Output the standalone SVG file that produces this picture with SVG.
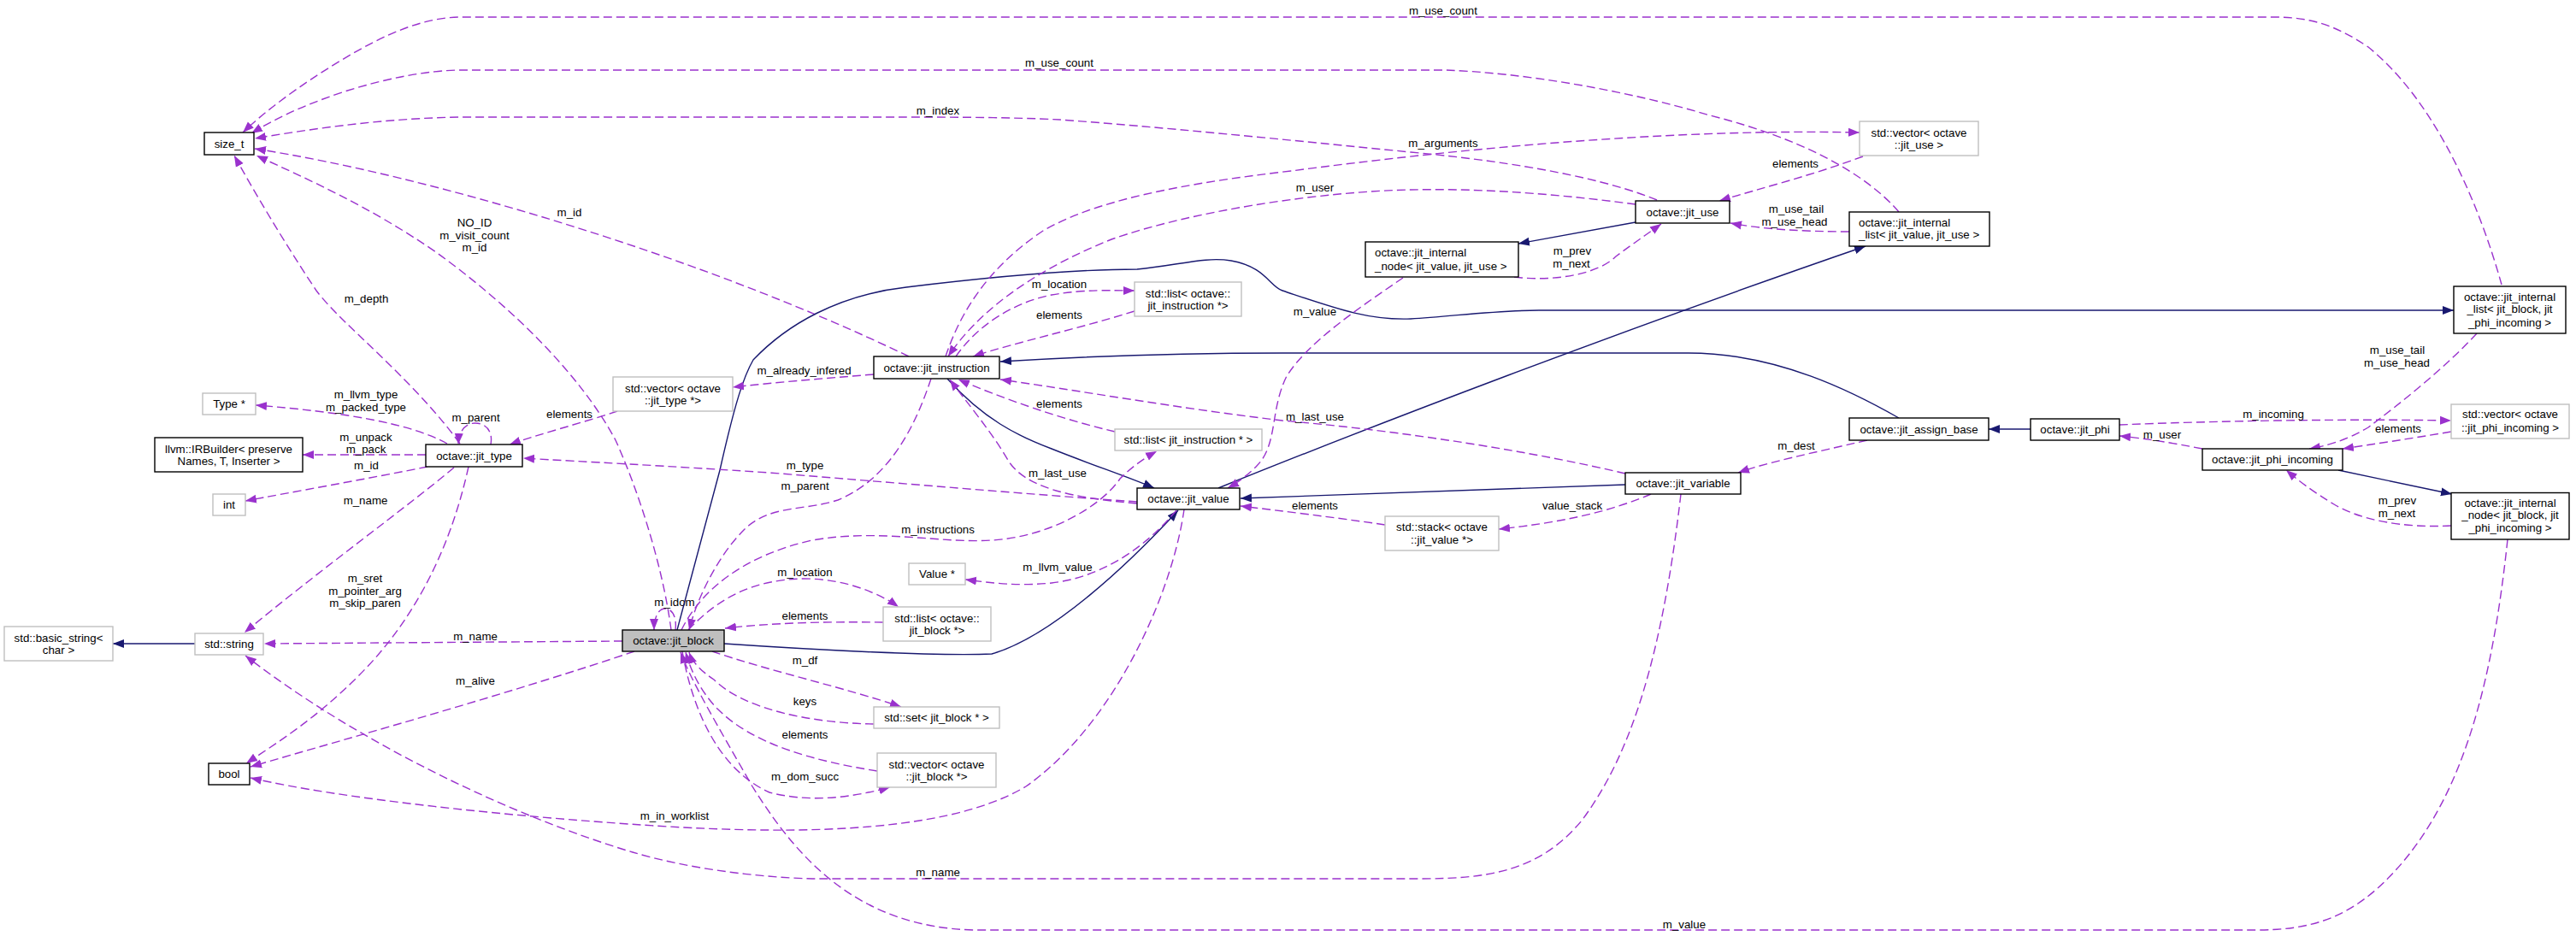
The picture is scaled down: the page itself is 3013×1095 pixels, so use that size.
<svg xmlns="http://www.w3.org/2000/svg" width="3013" height="1095" viewBox="0 0 3013 1095">
<style>
text{font-family:"Liberation Sans",Arial,sans-serif;font-size:13.3px;fill:#000;text-anchor:middle}
.l{text-anchor:start}
.nb{fill:#fff;stroke:#000;stroke-width:1.4}
.ng{fill:#fff;stroke:#bfbfbf;stroke-width:1.4}
.nf{fill:#bfbfbf;stroke:#000;stroke-width:1.4}
.u{fill:none;stroke:#9a32cd;stroke-width:1.4;stroke-dasharray:10,5;marker-end:url(#ap)}
.i{fill:none;stroke:#191970;stroke-width:1.4;marker-end:url(#ab)}
.un{fill:none;stroke:#9a32cd;stroke-width:1.4;stroke-dasharray:10,5}
</style>
<defs>
<marker id="ap" markerUnits="userSpaceOnUse" markerWidth="14" markerHeight="12" refX="13" refY="5" orient="auto" viewBox="0 0 14 10"><path d="M0,0 L13,5 L0,10 z" fill="#9a32cd"/></marker>
<marker id="ab" markerUnits="userSpaceOnUse" markerWidth="14" markerHeight="12" refX="13" refY="5" orient="auto" viewBox="0 0 14 10"><path d="M0,0 L13,5 L0,10 z" fill="#191970"/></marker>
</defs>
<rect width="3013" height="1095" fill="#fff"/>
<g id="edges">
<g><path class="u" d="M2926,333 C2900,240 2850,120 2770,55 C2730,28 2700,20 2660,20 L540,20 C495,20 450,40 400,70 C350,100 310,130 284,155"/><text x="1688" y="16.5">m_use_count</text></g>
<g><path class="u" d="M2221,248 C2180,200 2100,160 2000,135 C1900,105 1780,85 1690,82 L540,82 C500,82 450,92 400,108 C350,125 320,140 294,156"/><text x="1239" y="78">m_use_count</text></g>
<g><path class="u" d="M1938,234 C1880,210 1780,190 1650,178 C1500,163 1350,148 1240,140 C1180,137 1100,137 1050,137 L540,137 C460,138 380,148 298,162"/><text x="1097" y="133.5">m_index</text></g>
<g><path class="u" d="M1063,417 C820,300 500,205 298,174"/><text x="666" y="252.5">m_id</text></g>
<g><path class="u" d="M785,737 C775,660 745,570 720,515 C680,440 600,360 510,295 C430,240 360,210 300,182"/><text x="555" y="264.5">NO_ID</text><text x="555" y="279.5">m_visit_count</text><text x="555" y="293.5">m_id</text></g>
<g><path class="u" d="M538,519 C480,440 400,380 370,340 C330,280 295,220 274,182"/><text x="428.5" y="353.5">m_depth</text></g>
<g><path class="u" d="M523,519 C480,495 400,482 299,474"/><text x="428" y="465.5">m_llvm_type</text><text x="428" y="480.5">m_packed_type</text></g>
<g><path class="u" d="M574,520 C577,503 567,495 556,495 C545,495 537,503 536,520"/><text x="556.5" y="492.5">m_parent</text></g>
<g><path class="u" d="M722,481 C680,495 630,508 596,520"/><text x="666" y="488.5">elements</text></g>
<g><path class="u" d="M498,532 L354,532"/><text x="428" y="515.5">m_unpack</text><text x="428" y="529.5">m_pack</text></g>
<g><path class="u" d="M500,546 C430,560 340,576 287,586"/><text x="428.5" y="549">m_id</text></g>
<g><path class="u" d="M531,547 C480,590 370,670 286,740"/><text x="427.5" y="589.5">m_name</text></g>
<g><path class="u" d="M548,546 C525,650 480,730 420,790 C370,840 330,865 288,893"/><text x="427" y="680.5">m_sret</text><text x="427" y="695.5">m_pointer_arg</text><text x="427" y="710">m_skip_paren</text></g>
<g><path class="i" d="M228,753 L132,753"/></g>
<g><path class="u" d="M728,750 L309,753"/><text x="556" y="749">m_name</text></g>
<g><path class="u" d="M742,762 C600,810 420,860 293,897"/><text x="556" y="800.5">m_alive</text></g>
<g><path class="u" d="M1385,596 C1370,700 1300,850 1200,920 C1100,980 900,975 750,965 C600,955 400,935 293,910"/><text x="789" y="959">m_in_worklist</text></g>
<g><path class="u" d="M1966,578 C1945,760 1910,880 1850,960 C1800,1020 1740,1028 1660,1028 L950,1028 C880,1026 800,1015 740,997 C600,955 420,870 287,767"/><text x="1097" y="1024.5">m_name</text></g>
<g><path class="u" d="M2933,631 C2915,800 2880,950 2780,1040 C2740,1075 2700,1088 2640,1088 L1140,1088 C1000,1085 930,1000 880,920 C840,850 810,800 796,763"/><text x="1970" y="1086">m_value</text></g>
<g><path class="u" d="M790,737 C792,720 785,712 778,712 C770,712 765,722 765,737"/><text x="789" y="708.5">m_idom</text></g>
<g><path class="i" d="M792,737 L842,550 C860,470 870,440 881,421 C920,380 980,345 1060,336 C1150,325 1250,315 1330,315 C1380,310 1410,300 1440,305 C1480,312 1485,335 1500,340 C1560,360 1600,375 1650,373 C1700,370 1750,363 1800,363 L2870,363"/></g>
<g><path class="i" d="M847,753 C950,760 1100,768 1160,765 C1230,745 1320,660 1378,597"/></g>
<g><path class="i" d="M1108,443 C1150,490 1190,510 1230,525 C1280,545 1320,558 1350,571"/></g>
<g><path class="i" d="M2221,489 C2170,460 2080,413 1975,413 L1500,413 C1350,413 1250,418 1170,423"/></g>
<g><path class="i" d="M1901,567 L1451,583"/></g>
<g><path class="i" d="M1425,571 C1600,500 1900,385 2182,288"/></g>
<g><path class="i" d="M1913,260 L1776,285"/></g>
<g><path class="i" d="M2375,502 L2326,502"/></g>
<g><path class="i" d="M2735,550 L2868,578"/></g>
<g><path class="u" d="M1771,324 C1820,330 1870,320 1890,300 C1910,285 1925,275 1943,262"/><text x="1839" y="298">m_prev</text><text x="1838" y="312.5">m_next</text></g>
<g><path class="u" d="M2163,271 C2110,271 2060,268 2024,261"/><text x="2101" y="249">m_use_tail</text><text x="2099" y="263.5">m_use_head</text></g>
<g><path class="u" d="M2179,183 C2120,205 2060,220 2011,235"/><text x="2100" y="196">elements</text></g>
<g><path class="u" d="M1106,417 C1125,360 1160,310 1220,270 C1280,235 1380,215 1510,200 C1700,175 1950,150 2175,155"/><text x="1688" y="171.5">m_arguments</text></g>
<g><path class="u" d="M1913,239 C1830,228 1740,220 1650,222 C1550,224 1400,245 1300,280 C1200,320 1140,370 1109,417"/><text x="1538" y="224">m_user</text></g>
<g><path class="u" d="M1641,325 C1590,360 1530,400 1505,440 C1485,480 1495,520 1470,545 C1460,555 1450,563 1436,571"/><text x="1538" y="368.5">m_value</text></g>
<g><path class="u" d="M1118,417 C1140,385 1180,355 1230,345 C1270,338 1300,340 1327,340"/><text x="1239" y="336.5">m_location</text></g>
<g><path class="u" d="M1327,364 C1260,385 1190,400 1138,417"/><text x="1239" y="373">elements</text></g>
<g><path class="u" d="M1304,505 C1240,490 1170,465 1121,444"/><text x="1239" y="477">elements</text></g>
<g><path class="u" d="M1901,554 C1800,530 1650,505 1500,492 C1380,478 1250,455 1170,444"/><text x="1538" y="492">m_last_use</text></g>
<g><path class="u" d="M1330,589 C1250,582 1200,570 1180,540 C1160,505 1130,470 1111,444"/><text x="1237" y="557.5">m_last_use</text></g>
<g><path class="u" d="M1089,443 C1070,500 1040,560 980,585 C940,598 900,590 870,620 C840,650 815,700 806,737"/><text x="941.5" y="573">m_parent</text></g>
<g><path class="u" d="M1330,587 C1200,578 1050,565 900,553 C780,545 680,540 612,536"/><text x="941.5" y="549">m_type</text></g>
<g><path class="u" d="M1022,438 C960,443 900,448 857,453"/><text x="940.5" y="437.5">m_already_infered</text></g>
<g><path class="u" d="M797,737 C820,690 870,650 950,632 C1030,618 1100,636 1160,632 C1230,628 1290,590 1310,560 C1325,545 1340,535 1353,528"/><text x="1097" y="623.5">m_instructions</text></g>
<g><path class="u" d="M1376,597 C1340,640 1290,675 1230,682 C1190,686 1160,682 1129,678"/><text x="1237" y="668">m_llvm_value</text></g>
<g><path class="u" d="M805,737 C840,700 880,678 940,677 C990,677 1030,695 1051,710"/><text x="941.5" y="673.5">m_location</text></g>
<g><path class="u" d="M1033,728 C960,727 900,729 848,735"/><text x="941.5" y="724.5">elements</text></g>
<g><path class="u" d="M833,762 C900,785 990,805 1054,827"/><text x="941.5" y="777">m_df</text></g>
<g><path class="u" d="M1022,847 C950,846 870,830 835,795 C820,785 810,775 806,763"/><text x="941.5" y="824.5">keys</text></g>
<g><path class="u" d="M1026,902 C950,890 880,870 840,830 C820,810 808,785 802,763"/><text x="941.5" y="863.5">elements</text></g>
<g><path class="u" d="M798,762 C810,830 840,900 900,927 C950,940 1000,932 1041,921"/><text x="941.5" y="912.5">m_dom_succ</text></g>
<g><path class="u" d="M1620,614 C1560,605 1500,598 1451,592"/><text x="1538" y="596">elements</text></g>
<g><path class="u" d="M1931,578 C1880,600 1820,612 1753,619"/><text x="1839" y="595.5">value_stack</text></g>
<g><path class="u" d="M2184,515 C2120,530 2070,540 2033,553"/><text x="2101" y="526">m_dest</text></g>
<g><path class="u" d="M2479,497 C2600,492 2750,490 2867,492"/><text x="2659" y="489">m_incoming</text></g>
<g><path class="u" d="M2576,525 C2540,518 2510,513 2479,510"/><text x="2529" y="513">m_user</text></g>
<g><path class="u" d="M2867,505 C2820,513 2780,519 2740,525"/><text x="2805" y="506">elements</text></g>
<g><path class="u" d="M2897,390 C2860,430 2810,470 2770,500 C2745,515 2720,522 2701,525"/><text x="2804" y="413.5">m_use_tail</text><text x="2803.5" y="428.5">m_use_head</text></g>
<g><path class="u" d="M2867,615 C2810,618 2760,608 2730,590 C2705,575 2688,562 2674,550"/><text x="2804" y="590">m_prev</text><text x="2803.5" y="605">m_next</text></g>
</g>
<g id="n_size_t"><rect class="nb" x="239" y="155" width="58" height="26"/><text x="268" y="172.7">size_t</text></g>
<g id="n_type_ptr"><rect class="ng" x="237" y="460" width="62" height="25"/><text x="268" y="476.7">Type *</text></g>
<g id="n_irbuilder"><rect class="nb" x="181" y="512" width="173" height="40"/><text x="267.5" y="529.7">llvm::IRBuilder&lt; preserve</text><text x="267.5" y="544.2">Names, T, Inserter &gt;</text></g>
<g id="n_jit_type"><rect class="nb" x="498" y="520" width="113" height="26"/><text x="554.5" y="537.7">octave::jit_type</text></g>
<g id="n_vec_jit_type"><rect class="ng" x="717" y="441" width="140" height="40"/><text x="787" y="458.7">std::vector&lt; octave</text><text x="787" y="472.7">::jit_type *&gt;</text></g>
<g id="n_int"><rect class="ng" x="249" y="578" width="38" height="25"/><text x="268" y="595.2">int</text></g>
<g id="n_basic_string"><rect class="ng" x="5" y="733" width="127" height="40"/><text x="68.5" y="750.7">std::basic_string&lt;</text><text x="68.5" y="764.7">char &gt;</text></g>
<g id="n_string"><rect class="ng" x="228" y="741" width="80" height="25"/><text x="268" y="758.2">std::string</text></g>
<g id="n_bool"><rect class="nb" x="244" y="893" width="48" height="25"/><text x="268" y="910.2">bool</text></g>
<g id="n_jit_block"><rect class="nf" x="728" y="737" width="119" height="25"/><text x="787.5" y="754.2">octave::jit_block</text></g>
<g id="n_jit_instruction"><rect class="nb" x="1022" y="417" width="147" height="26"/><text x="1095.5" y="434.7">octave::jit_instruction</text></g>
<g id="n_list_oct_instr"><rect class="ng" x="1327" y="330" width="125" height="40"/><text x="1389.5" y="347.7">std::list&lt; octave::</text><text x="1389.5" y="361.7">jit_instruction *&gt;</text></g>
<g id="n_list_instr"><rect class="ng" x="1304" y="502" width="172" height="25"/><text x="1390" y="519.2">std::list&lt; jit_instruction * &gt;</text></g>
<g id="n_jit_value"><rect class="nb" x="1330" y="571" width="120" height="25"/><text x="1390" y="588.2">octave::jit_value</text></g>
<g id="n_value_ptr"><rect class="ng" x="1063" y="659" width="66" height="25"/><text x="1096" y="676.2">Value *</text></g>
<g id="n_list_block"><rect class="ng" x="1033" y="710" width="126" height="40"/><text x="1096" y="727.7">std::list&lt; octave::</text><text x="1096" y="741.7">jit_block *&gt;</text></g>
<g id="n_set_block"><rect class="ng" x="1022" y="827" width="147" height="25"/><text x="1095.5" y="844.2">std::set&lt; jit_block * &gt;</text></g>
<g id="n_vec_block"><rect class="ng" x="1026" y="881" width="139" height="40"/><text x="1095.5" y="898.7">std::vector&lt; octave</text><text x="1095.5" y="912.7">::jit_block *&gt;</text></g>
<g id="n_vec_use"><rect class="ng" x="2175" y="142" width="139" height="40"/><text x="2244.5" y="159.7">std::vector&lt; octave</text><text x="2244.5" y="173.7">::jit_use &gt;</text></g>
<g id="n_jit_use"><rect class="nb" x="1913" y="235" width="110" height="26"/><text x="1968" y="252.7">octave::jit_use</text></g>
<g id="n_node_value_use"><rect class="nb" x="1597" y="283" width="179" height="41"/><text class="l" x="1608" y="300.4">octave::jit_internal</text><text class="l" x="1608" y="315.5">_node&lt; jit_value, jit_use &gt;</text></g>
<g id="n_list_value_use"><rect class="nb" x="2163" y="248" width="164" height="40"/><text class="l" x="2174" y="264.6">octave::jit_internal</text><text class="l" x="2174" y="279.3">_list&lt; jit_value, jit_use &gt;</text></g>
<g id="n_assign_base"><rect class="nb" x="2163" y="489" width="163" height="26"/><text x="2244.5" y="506.7">octave::jit_assign_base</text></g>
<g id="n_list_block_phi"><rect class="nb" x="2870" y="335" width="131" height="55"/><text x="2935.5" y="351.7">octave::jit_internal</text><text x="2935.5" y="366.1">_list&lt; jit_block, jit</text><text x="2935.5" y="381.5">_phi_incoming &gt;</text></g>
<g id="n_jit_phi"><rect class="nb" x="2375" y="490" width="104" height="25"/><text x="2427" y="507.2">octave::jit_phi</text></g>
<g id="n_phi_incoming"><rect class="nb" x="2576" y="525" width="164" height="25"/><text x="2658" y="541.7">octave::jit_phi_incoming</text></g>
<g id="n_vec_phi_incoming"><rect class="ng" x="2867" y="473" width="138" height="40"/><text x="2936" y="488.7">std::vector&lt; octave</text><text x="2936" y="504.5">::jit_phi_incoming &gt;</text></g>
<g id="n_node_block_phi"><rect class="nb" x="2867" y="576.5" width="138" height="54.5"/><text x="2936" y="593.2">octave::jit_internal</text><text x="2936" y="607.4">_node&lt; jit_block, jit</text><text x="2936" y="622.2">_phi_incoming &gt;</text></g>
<g id="n_jit_variable"><rect class="nb" x="1901" y="553" width="135" height="25"/><text x="1968.5" y="570.2">octave::jit_variable</text></g>
<g id="n_stack_value"><rect class="ng" x="1620" y="604" width="133" height="40"/><text x="1686.5" y="620.5">std::stack&lt; octave</text><text x="1686.5" y="635.7">::jit_value *&gt;</text></g>
</svg>
